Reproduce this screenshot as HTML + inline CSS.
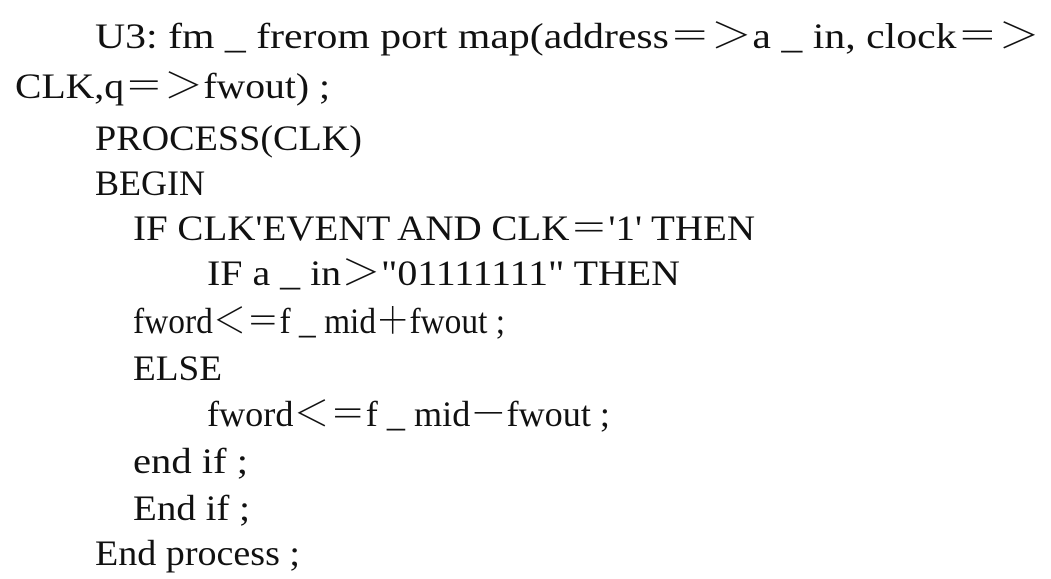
<!DOCTYPE html>
<html><head><meta charset="utf-8"><style>
html,body{margin:0;padding:0;background:#fff;}
svg{display:block;}
text{font-family:"Liberation Serif","Noto Serif CJK SC",serif;font-size:36px;fill:#111;}
</style></head><body>
<svg width="1051" height="579" viewBox="0 0 1051 579" xmlns="http://www.w3.org/2000/svg">
<rect width="1051" height="579" fill="#fff"/>
<text x="95" y="48" textLength="945" lengthAdjust="spacingAndGlyphs">U3: fm _ frerom port map(address＝＞a _ in, clock＝＞</text>
<text x="15" y="98" textLength="315" lengthAdjust="spacingAndGlyphs">CLK,q＝＞fwout) ;</text>
<text x="95" y="150" textLength="267" lengthAdjust="spacingAndGlyphs">PROCESS(CLK)</text>
<text x="95" y="195" textLength="110" lengthAdjust="spacingAndGlyphs">BEGIN</text>
<text x="133" y="240" textLength="622" lengthAdjust="spacingAndGlyphs">IF CLK'EVENT AND CLK＝'1' THEN</text>
<text x="207" y="285" textLength="473" lengthAdjust="spacingAndGlyphs">IF a _ in＞"01111111" THEN</text>
<text x="133" y="333" textLength="372" lengthAdjust="spacingAndGlyphs">fword＜＝f _ mid＋fwout ;</text>
<text x="133" y="380" textLength="89" lengthAdjust="spacingAndGlyphs">ELSE</text>
<text x="207" y="426" textLength="403" lengthAdjust="spacingAndGlyphs">fword＜＝f _ mid－fwout ;</text>
<text x="133" y="473" textLength="115" lengthAdjust="spacingAndGlyphs">end if ;</text>
<text x="133" y="520" textLength="117" lengthAdjust="spacingAndGlyphs">End if ;</text>
<text x="95" y="565" textLength="205" lengthAdjust="spacingAndGlyphs">End process ;</text>
</svg>
</body></html>
